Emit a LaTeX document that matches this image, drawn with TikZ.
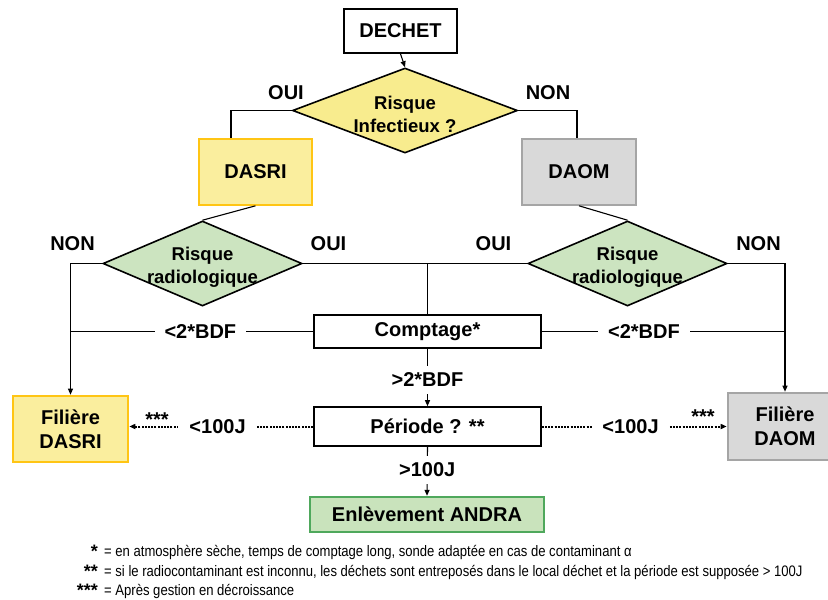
\documentclass[tikz,border=0pt]{standalone}
\usepackage{fontspec}
\setmainfont{Liberation Sans}
\newfontfamily\narrowfont[FakeStretch=0.86]{Liberation Sans}
\usetikzlibrary{shapes.geometric,arrows.meta}
\definecolor{boxyellow}{HTML}{FAEE9E}
\definecolor{diamyellow}{HTML}{F8EC8E}
\definecolor{gold}{HTML}{FFC514}
\definecolor{lgray}{HTML}{D9D9D9}
\definecolor{mgray}{HTML}{A5A5A5}
\definecolor{dgreen}{HTML}{CCE4C0}
\definecolor{andrafill}{HTML}{C9E3BC}
\definecolor{andraline}{HTML}{4FA85C}
\begin{document}
\begin{tikzpicture}[x=1pt,y=-1pt,
  box/.style={draw, line width=1.6pt, inner sep=0pt, align=center, font=\fontsize{20}{24}\selectfont\bfseries},
  diam/.style={shape=diamond, draw, line width=1.6pt, inner sep=0pt},
  dtext/.style={align=center, inner sep=0pt, font=\fontsize{18.5}{23}\selectfont\bfseries},
  conn/.style={line width=1.1pt},
  arr/.style={conn, -{Triangle[length=6pt,width=5pt]}},
  dotarr/.style={line width=2pt, dash pattern=on 2pt off 1.2pt, -{Triangle[length=6pt,width=5pt]}},
  lbl/.style={inner sep=0pt, font=\fontsize{20}{24}\selectfont\bfseries},
  gaph/.style={lbl, fill=white, inner xsep=10pt, inner ysep=2pt},
  gapv/.style={lbl, fill=white, inner xsep=2pt, inner ysep=7pt},
  fnote/.style={inner sep=0pt, anchor=base west, font=\narrowfont\fontsize{15.2}{17}\selectfont},
  fstar/.style={inner sep=0pt, anchor=base east, font=\fontsize{18}{20}\selectfont\bfseries}
]
\clip (0,0) rectangle (828,600);
\fill[white] (0,0) rectangle (828,600);

% nodes
\node[box, fill=white, minimum width=113pt, minimum height=44pt] (dechet) at (400.5,31) {DECHET};
\node[diam, fill=diamyellow, minimum width=225pt, minimum height=85pt] (ri) at (405,110.5) {};
\node[dtext] (rit) at (405,114) {Risque\\Infectieux ?};
\node[box, fill=boxyellow, draw=gold, minimum width=113pt, minimum height=66pt] (dasri) at (255.5,172) {DASRI};
\node[box, fill=lgray, draw=mgray, minimum width=114pt, minimum height=66pt] (daom) at (579,172) {DAOM};
\node[diam, fill=dgreen, minimum width=199pt, minimum height=85pt] (lrad) at (202.5,263.5) {};
\node[dtext] (lradt) at (202.5,267) {Risque\\radiologique};
\node[diam, fill=dgreen, minimum width=199pt, minimum height=85pt] (rrad) at (627.5,263.5) {};
\node[dtext] (rradt) at (627.5,267) {Risque\\radiologique};
\node[box, fill=white, minimum width=227pt, minimum height=33pt] (comptage) at (427.5,331.5) {Comptage*};
\node[box, fill=white, minimum width=227pt, minimum height=39pt] (periode) at (427.5,426.5) {Période ? **};
\node[box, fill=andrafill, draw=andraline, line width=2.4pt, minimum width=234pt, minimum height=35pt] (andra) at (427,514.5) {Enlèvement ANDRA};
\node[box, fill=boxyellow, draw=gold, line width=2.6pt, minimum width=115pt, minimum height=66pt] (fdasri) at (70.5,429) {Filière\\DASRI};
\node[box, fill=lgray, draw=mgray, line width=2.6pt, minimum width=114pt, minimum height=67pt] (fdaom) at (785,426.5) {Filière\\DAOM};

% branch labels
\node[lbl] (oui1) at (286,93) {OUI};
\node[lbl] (non1) at (548,93) {NON};
\node[lbl] (non2) at (72.5,243.5) {NON};
\node[lbl] (oui2) at (328.5,243.5) {OUI};
\node[lbl] (oui3) at (493.5,243.5) {OUI};
\node[lbl] (non3) at (758.5,243.5) {NON};

% connectors
\draw[arr] (dechet.south) -- (ri.north);
\draw[conn] (ri.west) -| ([xshift=-24.5pt]dasri.north);
\draw[conn] (ri.east) -| ([xshift=-2pt]daom.north);
\draw[conn] (dasri.south) -- (lrad.north);
\draw[conn] (daom.south) -- (rrad.north);
\draw[arr] (lrad.west) -| (fdasri.north);
\draw[arr] (rrad.east) -| (fdaom.north);
\draw[conn] (lrad.east) -- (rrad.west);
\coordinate (jn) at (comptage.north |- lrad.east);
\draw[conn] (jn) -- (comptage.north);
\draw[conn] (comptage.west) -- node[gaph, pos=0.465] (l1) {<2*BDF} (comptage.west -| fdasri.north);
\draw[conn] (comptage.east) -- node[gaph, pos=0.42] (l2) {<2*BDF} (comptage.east -| fdaom.north);
\draw[arr] (comptage.south) -- node[gapv, pos=0.54] (l3) {>2*BDF} (periode.north);
\draw[arr] (periode.south) -- node[gapv, pos=0.47] (l4) {>100J} (andra.north);
\draw[dotarr] (periode.west) -- node[gaph, pos=0.52, inner xsep=11pt] (l5) {<100J} (periode.west -| fdasri.east);
\draw[dotarr] (periode.east) -- node[gaph, pos=0.48, inner xsep=10pt] (l6) {<100J} (periode.east -| fdaom.west);
\node[lbl] (st1) at (157,420) {***};
\node[lbl] (st2) at (703,416.5) {***};

% footnotes
\node[fstar] (f1s) at (98,557) {*};
\node[fnote] (f1) at (104,556) {= en atmosphère sèche, temps de comptage long, sonde adaptée en cas de contaminant α};
\node[fstar] (f2s) at (98,577.5) {**};
\node[fnote] (f2) at (104,576.5) {= si le radiocontaminant est inconnu, les déchets sont entreposés dans le local déchet et la période est supposée > 100J};
\node[fstar] (f3s) at (98,596.5) {***};
\node[fnote] (f3) at (104,595.5) {= Après gestion en décroissance};
\end{tikzpicture}
\end{document}
